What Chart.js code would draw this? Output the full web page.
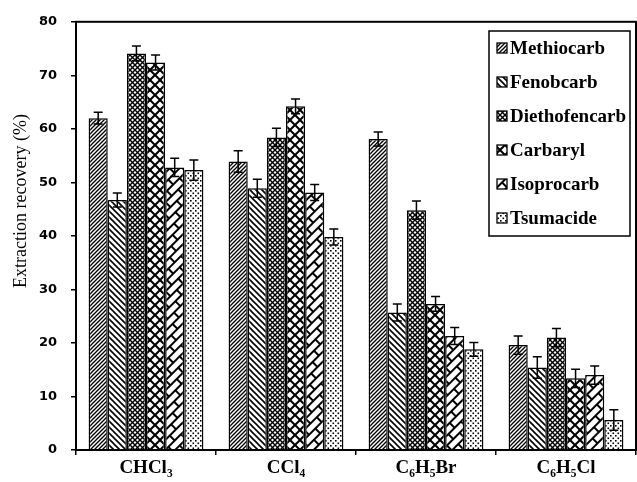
<!DOCTYPE html>
<html>
<head>
<meta charset="utf-8">
<script src="https://cdn.jsdelivr.net/npm/chart.js@4.4.1/dist/chart.umd.min.js"></script>
<style>
  body { margin: 0; background: #fff; }
  #wrap { width: 637px; height: 482px; }
</style>
</head>
<body>
<div id="wrap"><canvas id="myChart" width="637" height="482"></canvas></div>
<script>
//DATA

const categories = ["CHCl₃", "CCl₄", "C₆H₅Br", "C₆H₅Cl"];
const seriesNames = ["Methiocarb", "Fenobcarb", "Diethofencarb", "Carbaryl", "Isoprocarb", "Tsumacide"];

const methiocarb = [62.0, 53.9, 58.1, 19.6];
const fenobcarb = [46.7, 48.9, 25.7, 15.4];
const diethofencarb = [74.1, 58.4, 44.8, 21.0];
const carbaryl = [72.4, 64.2, 27.3, 13.4];
const isoprocarb = [52.8, 48.1, 21.3, 14.0];
const tsumacide = [52.3, 39.8, 18.8, 5.6];

const methiocarbErr = [1.1, 2.0, 1.3, 1.7];
const fenobcarbErr = [1.3, 1.7, 1.6, 2.0];
const diethofencarbErr = [1.4, 1.7, 1.7, 1.7];
const carbarylErr = [1.4, 1.4, 1.4, 1.7];
const isoprocarbErr = [1.7, 1.5, 1.6, 1.7];
const tsumacideErr = [1.9, 1.5, 1.3, 1.9];

const yTicks = [0, 10, 20, 30, 40, 50, 60, 70, 80];
const yTitle = "Extraction recovery (%)";

const values = [methiocarb, fenobcarb, diethofencarb, carbaryl, isoprocarb, tsumacide];
const errors = [methiocarbErr, fenobcarbErr, diethofencarbErr, carbarylErr, isoprocarbErr, tsumacideErr];

//PATTERNS

function tile(w, h, draw) {
  const c = document.createElement("canvas");
  c.width = w;
  c.height = h;
  const g = c.getContext("2d");
  g.fillStyle = "#fff";
  g.fillRect(0, 0, w, h);
  g.strokeStyle = "#000";
  g.fillStyle = "#000";
  draw(g, w, h);
  return c;
}

function diag(g, s, dir) {
  for (let k = -1; k <= 1; k++) {
    g.beginPath();
    if (dir > 0) {
      g.moveTo(k * s - 1, s + 1);
      g.lineTo(k * s + s + 1, -1);
    } else {
      g.moveTo(k * s - 1, -1);
      g.lineTo(k * s + s + 1, s + 1);
    }
    g.stroke();
  }
}

function makePatterns(ctx) {
  const p = [];
  p.push(ctx.createPattern(tile(4, 4, (g) => { g.lineWidth = 1.3; diag(g, 4, 1); }), "repeat"));
  p.push(ctx.createPattern(tile(6, 6, (g) => { g.lineWidth = 1.6; diag(g, 6, -1); }), "repeat"));
  p.push(ctx.createPattern(tile(5, 5, (g) => { g.lineWidth = 1.4; diag(g, 5, 1); diag(g, 5, -1); }), "repeat"));
  p.push(ctx.createPattern(tile(10, 10, (g) => { g.lineWidth = 2; diag(g, 10, 1); diag(g, 10, -1); }), "repeat"));

  const brick = ctx.createPattern(tile(18, 14, (g) => {
    g.lineWidth = 2;
    g.beginPath();
    g.moveTo(0, 1); g.lineTo(18, 1);
    g.moveTo(0, 8); g.lineTo(18, 8);
    g.moveTo(1, 1); g.lineTo(1, 8);
    g.moveTo(10, 8); g.lineTo(10, 15);
    g.stroke();
  }), "repeat");
  brick.setTransform(new DOMMatrix().rotateSelf(-45));
  p.push(brick);

  p.push(ctx.createPattern(tile(5, 5, (g) => {
    g.fillRect(0, 0, 1.6, 1.6);
    g.fillRect(2.5, 2.5, 1.6, 1.6);
  }), "repeat"));
  return p;
}

//PLUGINS

const errorBars = {
  id: "errorBars",
  afterDatasetsDraw(chart) {
    const ctx = chart.ctx;
    const y = chart.scales.y;
    ctx.save();
    ctx.strokeStyle = "#000";
    ctx.lineWidth = 1.5;
    chart.data.datasets.forEach((ds, i) => {
      chart.getDatasetMeta(i).data.forEach((bar, j) => {
        const top = y.getPixelForValue(ds.data[j] + errors[i][j]);
        const bot = y.getPixelForValue(ds.data[j] - errors[i][j]);
        ctx.beginPath();
        ctx.moveTo(bar.x, top); ctx.lineTo(bar.x, bot);
        ctx.moveTo(bar.x - 4.5, top); ctx.lineTo(bar.x + 4.5, top);
        ctx.moveTo(bar.x - 4.5, bot); ctx.lineTo(bar.x + 4.5, bot);
        ctx.stroke();
      });
    });
    ctx.restore();
  },
};

const frameAndLegend = {
  id: "frameAndLegend",
  afterDraw(chart) {
    const ctx = chart.ctx;
    const a = chart.chartArea;
    ctx.save();
    ctx.strokeStyle = "#000";
    ctx.lineWidth = 2;
    ctx.strokeRect(a.left, a.top, a.right - a.left, a.bottom - a.top);

    // legend box inside the plot
    const lx = 489, ly = 31, lw = 141, lh = 205;
    ctx.fillStyle = "#fff";
    ctx.fillRect(lx, ly, lw, lh);
    ctx.lineWidth = 1.5;
    ctx.strokeRect(lx, ly, lw, lh);
    ctx.font = "bold 19px 'Liberation Serif'";
    ctx.textBaseline = "middle";
    chart.data.datasets.forEach((ds, i) => {
      const cy = ly + 17 + i * 34;
      ctx.fillStyle = ds.backgroundColor;
      ctx.fillRect(497, cy - 5, 10, 10);
      ctx.lineWidth = 1.3;
      ctx.strokeRect(497, cy - 5, 10, 10);
      ctx.fillStyle = "#000";
      ctx.fillText(ds.label, 510, cy + 1);
    });

    // y axis title
    ctx.translate(21, 201);
    ctx.rotate(-Math.PI / 2);
    ctx.font = "18px 'Liberation Serif'";
    ctx.textAlign = "center";
    ctx.fillStyle = "#000";
    ctx.fillText(yTitle, 0, 0);
    ctx.restore();
  },
};

//CHART

const ctx = document.getElementById("myChart").getContext("2d");
const patterns = makePatterns(ctx);

const chart = new Chart(ctx, {
  type: "bar",
  data: {
    labels: categories,
    datasets: seriesNames.map((name, i) => ({
      label: name,
      data: values[i],
      backgroundColor: patterns[i],
      borderColor: "#000",
      borderWidth: 1.5,
    })),
  },
  options: {
    responsive: false,
    animation: false,
    layout: { padding: { top: 21, right: 1, left: 0, bottom: 0 } },
    datasets: { bar: { categoryPercentage: 0.82, barPercentage: 1.0 } },
    plugins: { legend: { display: false }, tooltip: { enabled: false } },
    scales: {
      x: {
        grid: { drawOnChartArea: false, tickLength: 5, color: "#000", lineWidth: 1.5 },
        border: { display: false },
        ticks: { color: "#000", padding: 2, font: { family: "'Liberation Serif'", size: 19, weight: "bold" } },
        afterFit(scale) { scale.height = 32; },
      },
      y: {
        min: 0,
        max: 80,
        afterBuildTicks(scale) { scale.ticks = yTicks.map((v) => ({ value: v })); },
        grid: { drawOnChartArea: false, tickLength: 5, color: "#000", lineWidth: 1.5 },
        border: { display: false },
        ticks: { color: "#000", padding: 14, font: { family: "'DejaVu Sans'", size: 13, weight: "bold" } },
        afterFit(scale) { scale.width = 76; },
      },
    },
  },
  plugins: [errorBars, frameAndLegend],
});
</script>
</body>
</html>
